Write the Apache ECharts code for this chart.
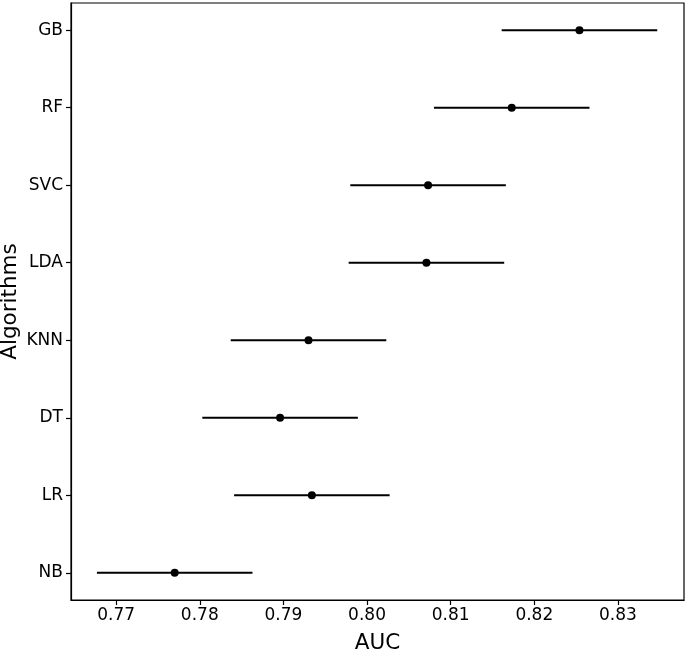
<!DOCTYPE html>
<html>
<head>
<meta charset="utf-8">
<script src="https://cdn.jsdelivr.net/npm/echarts@6/dist/echarts.min.js"></script>
<style>html,body{margin:0;padding:0;background:#fff}#c{width:685px;height:651px}</style>
</head>
<body>
<div id="c"></div>
<script>
// Categories from bottom (index 0) to top
const algorithms = ['NB', 'LR', 'DT', 'KNN', 'LDA', 'SVC', 'RF', 'GB'];
const aucMean = [0.7770, 0.7934, 0.7896, 0.7930, 0.8071, 0.8073, 0.8173, 0.8254];
const aucErr = [0.0093, 0.0093, 0.0093, 0.0093, 0.0093, 0.0093, 0.0093, 0.0093];
const xTicks = [0.77, 0.78, 0.79, 0.80, 0.81, 0.82, 0.83];

const font = 'DejaVu Sans';
const errData = algorithms.map((a, i) => [aucMean[i] - aucErr[i], aucMean[i] + aucErr[i], i]);
const ptData = algorithms.map((a, i) => [aucMean[i], i]);
const yTicks = algorithms.map((a, i) => i);

const chart = echarts.init(document.getElementById('c'), null, {renderer: 'canvas'});
chart.setOption({
  animation: false,
  backgroundColor: '#fff',
  grid: {left: 71, right: 1, top: 3, bottom: 51, containLabel: false, outerBoundsMode: 'none',
    show: true, borderColor: '#000', borderWidth: 1.2, backgroundColor: 'transparent'},
  xAxis: {
    type: 'value', min: 0.7646, max: 0.8379,
    name: 'AUC', nameLocation: 'middle', nameGap: 32, nameMoveOverlap: false,
    nameTextStyle: {fontFamily: font, fontSize: 21.5, color: '#000'},
    axisLine: {show: true, onZero: false, lineStyle: {color: '#000', width: 1.2}},
    axisTick: {show: true, inside: false, length: 5, lineStyle: {color: '#000', width: 1.2}, customValues: xTicks},
    axisLabel: {fontFamily: font, fontSize: 17, color: '#000', margin: 7, customValues: xTicks,
      formatter: v => v.toFixed(2)},
    splitLine: {show: false}
  },
  yAxis: {
    type: 'value', min: -0.35, max: 7.35,
    name: 'Algorithms', nameLocation: 'middle', nameGap: 50, nameRotate: 90, nameMoveOverlap: false,
    nameTextStyle: {fontFamily: font, fontSize: 21.5, color: '#000'},
    axisLine: {show: true, onZero: false, lineStyle: {color: '#000', width: 1.2}},
    axisTick: {show: true, inside: false, length: 5, lineStyle: {color: '#000', width: 1.2}, customValues: yTicks},
    axisLabel: {fontFamily: font, fontSize: 17, color: '#000', margin: 8, customValues: yTicks,
      formatter: v => algorithms[Math.round(v)] || ''},
    splitLine: {show: false}
  },
  series: [
    {
      type: 'custom',
      data: errData,
      encode: {x: [0, 1], y: 2},
      renderItem: function (params, api) {
        const p1 = api.coord([api.value(0), api.value(2)]);
        const p2 = api.coord([api.value(1), api.value(2)]);
        return {type: 'line', shape: {x1: p1[0], y1: p1[1], x2: p2[0], y2: p2[1]},
          style: {stroke: '#000', lineWidth: 2}};
      },
      z: 2
    },
    {
      type: 'scatter',
      data: ptData,
      symbol: 'circle',
      symbolSize: 8,
      itemStyle: {color: '#000', opacity: 1},
      z: 3
    }
  ]
});
</script>
</body>
</html>
